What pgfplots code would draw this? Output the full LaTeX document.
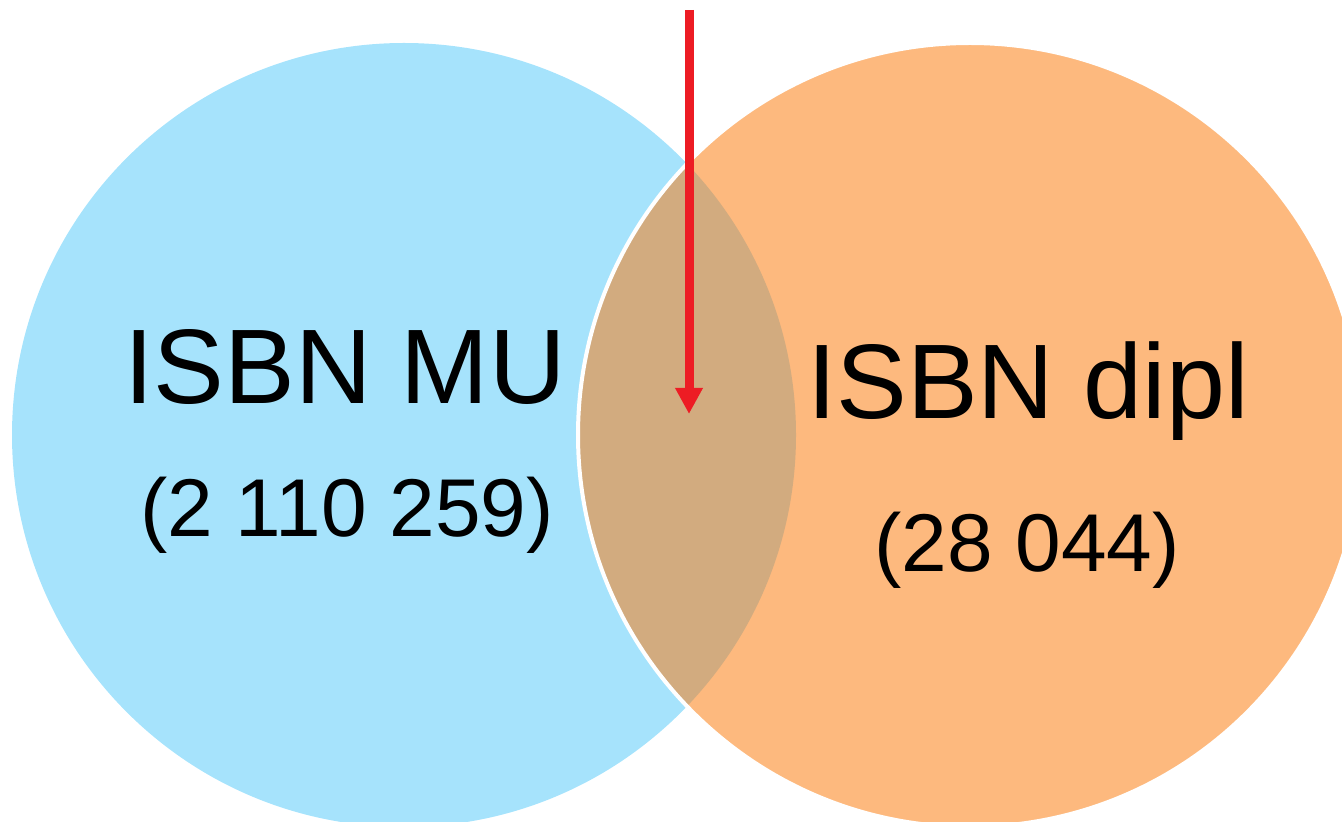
\documentclass[border=0pt]{standalone}
\usepackage{pgfplots}
\pgfplotsset{compat=1.18}
\usetikzlibrary{arrows.meta}
\usepackage{fontspec}
\setmainfont{Liberation Sans}
\definecolor{venblue}{HTML}{A6E3FC}
\definecolor{venorange}{HTML}{FDB97E}
\definecolor{venover}{HTML}{D2AB7F}
\definecolor{venred}{HTML}{ED1C24}
\begin{document}
\begin{tikzpicture}
\path[use as bounding box] (0,0) rectangle (671pt,411pt);
\clip (0,0) rectangle (671pt,411pt);
\begin{axis}[at={(0,0)}, anchor=south west, width=671pt, height=411pt, scale only axis,
  xmin=0, xmax=1342, ymin=0, ymax=822, y dir=reverse, hide axis, clip=false]
\fill[venblue] (axis cs:404,435) circle[radius=196pt];
\fill[venorange] (axis cs:970,435) circle[radius=196pt];
\begin{scope}
\clip (axis cs:404,435) circle[radius=196pt];
\fill[venover] (axis cs:970,435) circle[radius=196pt];
\end{scope}
\draw[white, line width=2pt] (axis cs:970,435) circle[radius=196pt];
\addplot[venred, line width=4.5pt, -{Triangle[length=13pt,width=13pt]}] coordinates {(689,10) (689,414)};
\node[anchor=base, inner sep=0pt, font=\fontsize{53pt}{60pt}\selectfont] at (axis cs:345,404) {ISBN MU};
\node[anchor=base, inner sep=0pt, font=\fontsize{41pt}{48pt}\selectfont] at (axis cs:347,537) {(2 110 259)};
\node[anchor=base, inner sep=0pt, font=\fontsize{53pt}{60pt}\selectfont] at (axis cs:1028,419) {ISBN dipl};
\node[anchor=base, inner sep=0pt, font=\fontsize{41pt}{48pt}\selectfont] at (axis cs:1027,572) {(28 044)};
\end{axis}
\end{tikzpicture}
\end{document}
